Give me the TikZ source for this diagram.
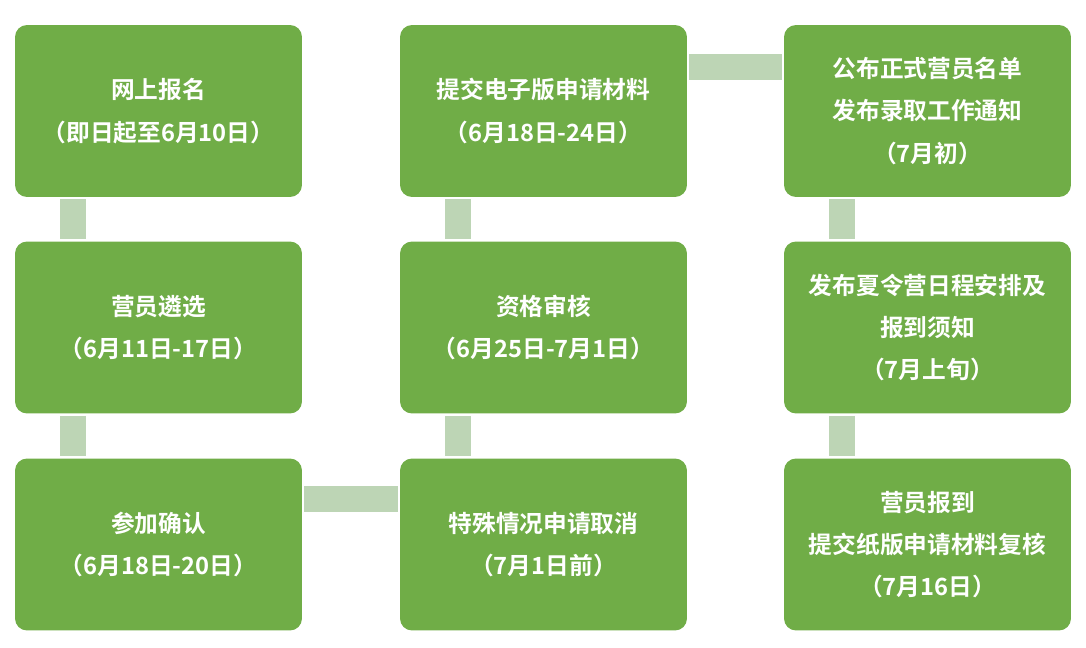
\documentclass[tikz,border=0pt]{standalone}
\usepackage{fontspec}
\newfontfamily\cjk{Noto Sans CJK SC}[BoldFont={Noto Sans CJK SC Bold}]
\usetikzlibrary{positioning}
\definecolor{boxgreen}{HTML}{70AD47}
\definecolor{bargreen}{HTML}{BDD5B5}
\begin{document}
\begin{tikzpicture}[
    x=0.02cm, y=-0.02cm,
    stagebox/.style={fill=boxgreen, rounded corners=0.24cm, minimum width=5.74cm, minimum height=3.44cm,
        align=center, text=white, font=\cjk\bfseries\fontsize{13.5}{24}\selectfont, inner sep=0pt},
    bar/.style={bargreen, line width=0.52cm}
]
    \useasboundingbox (0,0) rectangle (1086,647);
    % first column
    \node[stagebox] (a1) at (158.5,111) {网上报名\\（即日起至6月10日）};
    \node[stagebox] (a2) at (158.5,327.5) {营员遴选\\（6月11日-17日）};
    \node[stagebox] (a3) at (158.5,544.5) {参加确认\\（6月18日-20日）};
    % second column
    \node[stagebox] (b1) at (543.5,111) {提交电子版申请材料\\（6月18日-24日）};
    \node[stagebox] (b2) at (543.5,327.5) {资格审核\\（6月25日-7月1日）};
    \node[stagebox] (b3) at (543.5,544.5) {特殊情况申请取消\\（7月1日前）};
    % third column
    \node[stagebox] (c1) at (927.5,111) {公布正式营员名单\\发布录取工作通知\\（7月初）};
    \node[stagebox] (c2) at (927.5,327.5) {发布夏令营日程安排及\\报到须知\\（7月上旬）};
    \node[stagebox] (c3) at (927.5,544.5) {营员报到\\提交纸版申请材料复核\\（7月16日）};
    % vertical bars
    \foreach \u/\v in {a1/a2, a2/a3, b1/b2, b2/b3, c1/c2, c2/c3}
        \draw[bar] ([xshift=1.16cm,yshift=-0.04cm]\u.south west) -- ([xshift=1.16cm,yshift=0.04cm]\v.north west);
    % horizontal bars
    \draw[bar] ([xshift=0.04cm,yshift=-0.84cm]b1.north east) -- ([xshift=-0.04cm,yshift=-0.84cm]c1.north west);
    \draw[bar] ([xshift=0.04cm,yshift=-0.82cm]a3.north east) -- ([xshift=-0.04cm,yshift=-0.82cm]b3.north west);
\end{tikzpicture}
\end{document}
